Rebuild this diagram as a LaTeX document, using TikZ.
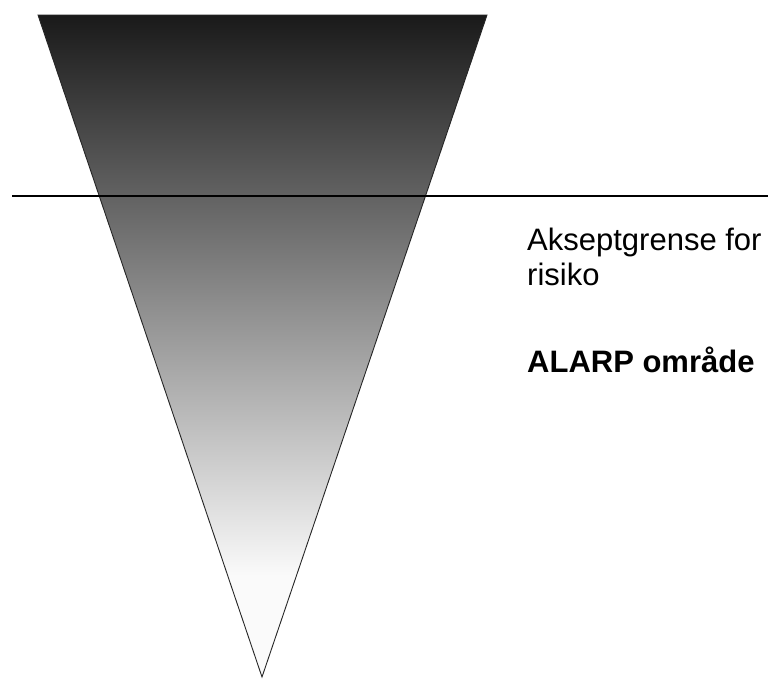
\documentclass[tikz,border=0pt]{standalone}
\usepackage{fontspec}
\setmainfont{Liberation Sans}
\begin{document}
\begin{tikzpicture}[x=1pt,y=-1pt,
  lbl/.style={anchor=base west,inner sep=0pt,font=\fontsize{31}{36}\selectfont}]
\useasboundingbox (0,0) rectangle (768,680);
\coordinate (tl) at (38,15);
\coordinate (tr) at (487,15);
\coordinate (ap) at (262,677);
\begin{scope}
  \clip (tl) -- (tr) -- (ap) -- cycle;
  \fill[black!2] (30,570) rectangle (500,680);
  \shade[top color=black!90,bottom color=black!2] (30,15) rectangle (500,575);
\end{scope}
\draw[black!85,line width=0.9pt,line join=miter] (tl) -- (tr) -- (ap) -- cycle;
\coordinate (la) at (12,196);
\coordinate (lb) at (768,196);
\draw[line width=2.6pt] (la) -- (lb);
\node[lbl] (t1) at (527,250) {Akseptgrense for};
\node[lbl] (t2) at (527,285) {risiko};
\node[lbl,font=\fontsize{31}{36}\selectfont\bfseries] (t3) at (527,372) {ALARP område};
\end{tikzpicture}
\end{document}
